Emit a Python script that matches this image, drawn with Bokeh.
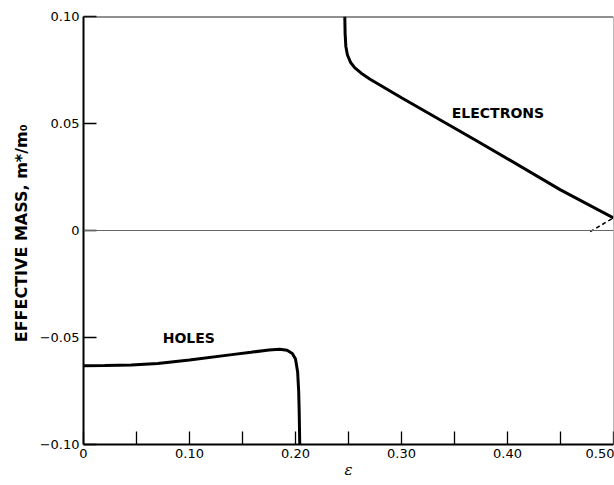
from bokeh.plotting import figure
from bokeh.models import Range1d, FixedTicker, Span, Label
from bokeh.embed import file_html
from bokeh.resources import INLINE

# ---- data ----
holes_eps = [0.0, 0.02, 0.045, 0.07, 0.10, 0.14, 0.158, 0.175, 0.185, 0.192, 0.197, 0.200, 0.202, 0.203, 0.2035, 0.204]
holes_mass = [-0.0632, -0.0631, -0.0628, -0.0622, -0.0605, -0.0580, -0.0569, -0.0558, -0.0555, -0.0560, -0.0575, -0.0600, -0.0660, -0.0750, -0.0850, -0.1000]

electrons_eps = [0.2465, 0.2468, 0.2475, 0.249, 0.252, 0.256, 0.262, 0.270, 0.30, 0.37, 0.45, 0.50]
electrons_mass = [0.100, 0.092, 0.086, 0.082, 0.0785, 0.0760, 0.0735, 0.0708, 0.0620, 0.0422, 0.0190, 0.0059]

dashed_eps = [0.478, 0.50]
dashed_mass = [-0.0005, 0.0059]

x_ticks = [0, 0.05, 0.1, 0.15, 0.2, 0.25, 0.3, 0.35, 0.4, 0.45, 0.5]
x_tick_labels = ["0", "", "0.10", "", "0.20", "", "0.30", "", "0.40", "", "0.50"]
y_ticks = [-0.1, -0.05, 0, 0.05, 0.1]
y_tick_labels = ["\u22120.10", "\u22120.05", "0", "0.05", "0.10"]

p = figure(frame_width=530, frame_height=428,
           x_range=Range1d(0, 0.5), y_range=Range1d(-0.1, 0.1),
           output_backend="svg", toolbar_location=None,
           min_border_left=83, min_border_right=1, min_border_top=16, min_border_bottom=30)
p.xgrid.visible = False
p.ygrid.visible = False
p.outline_line_color = None
p.background_fill_color = "white"
p.border_fill_color = "white"

for ax, ticks, labels in ((p.xaxis[0], x_ticks, x_tick_labels), (p.yaxis[0], y_ticks, y_tick_labels)):
    ax.ticker = FixedTicker(ticks=ticks)
    ax.major_label_overrides = {t: l for t, l in zip(ticks, labels)}
    ax.major_tick_in = 13
    ax.major_tick_out = 0
    ax.minor_tick_in = 0
    ax.minor_tick_out = 0
    ax.axis_line_width = 2
    ax.axis_line_color = "black"
    ax.major_tick_line_width = 1.3
    ax.major_tick_line_color = "black"
    ax.major_label_text_font = "DejaVu Sans"
    ax.major_label_text_font_size = "13px"
    ax.major_label_text_color = "black"

p.xaxis.major_label_standoff = 4
p.yaxis.major_label_standoff = 4

p.yaxis.axis_label = "EFFECTIVE MASS,  m*/m\u2080"
p.yaxis.axis_label_text_font = "DejaVu Sans"
p.yaxis.axis_label_text_font_style = "bold"
p.yaxis.axis_label_text_font_size = "16px"
p.yaxis.axis_label_standoff = 6
p.yaxis.axis_label_text_color = "black"

p.xaxis.axis_label = "\u03b5"
p.xaxis.axis_label_text_font = "DejaVu Serif"
p.xaxis.axis_label_text_font_style = "italic"
p.xaxis.axis_label_text_font_size = "15px"
p.xaxis.axis_label_standoff = 0
p.xaxis.axis_label_text_color = "black"

p.add_layout(Span(location=0.1, dimension="width", line_color="#222222", line_width=2))
p.add_layout(Span(location=0.5, dimension="height", line_color="#777777", line_width=1))
p.add_layout(Span(location=0, dimension="width", line_color="#666666", line_width=1))

p.line(holes_eps, holes_mass, line_color="black", line_width=3)
p.line(electrons_eps, electrons_mass, line_color="black", line_width=3)
p.line(dashed_eps, dashed_mass, line_color="black", line_width=1.5, line_dash="4 3")

p.add_layout(Label(x=0.0993, y=-0.0501, text="HOLES", text_align="center", text_baseline="middle",
                   text_font="DejaVu Sans", text_font_style="bold", text_font_size="14px", text_color="black"))
p.add_layout(Label(x=0.391, y=0.0551, text="ELECTRONS", text_align="center", text_baseline="middle",
                   text_font="DejaVu Sans", text_font_style="bold", text_font_size="14px", text_color="black"))

open("out.html", "w").write(file_html(p, INLINE))
